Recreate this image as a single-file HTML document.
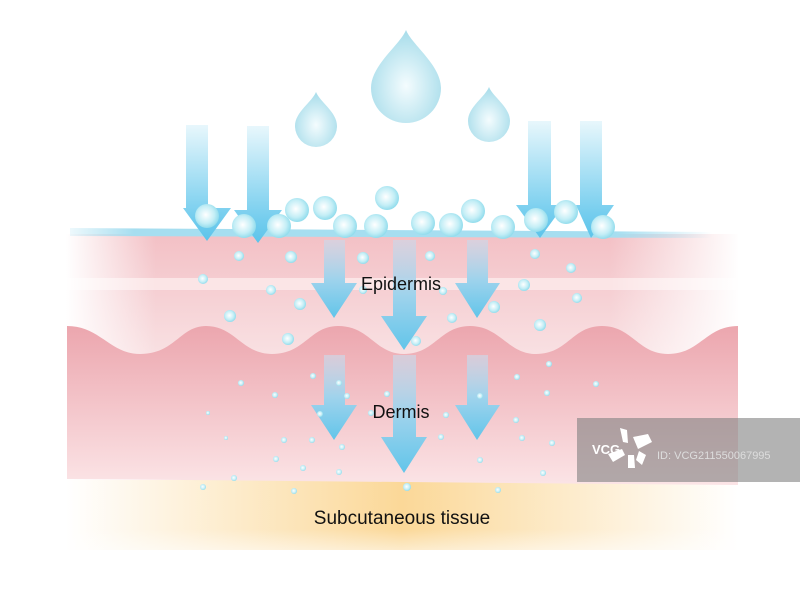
<!DOCTYPE html>
<html><head><meta charset="utf-8"><style>
html,body{margin:0;padding:0;background:#fff;}
svg{display:block;}
text{font-family:"Liberation Sans",sans-serif;fill:#111;}
</style></head><body>
<svg width="800" height="593" viewBox="0 0 800 593" xmlns="http://www.w3.org/2000/svg">
<defs>
<radialGradient id="bub" cx="0.45" cy="0.45" r="0.6">
<stop offset="0" stop-color="#ffffff"/><stop offset="0.6" stop-color="#c4eef6"/><stop offset="1" stop-color="#86d8ea"/></radialGradient>
<radialGradient id="drop" cx="0.5" cy="0.6" r="0.6">
<stop offset="0" stop-color="#f4fcfe"/><stop offset="1" stop-color="#a6dcea"/></radialGradient>
<linearGradient id="shaft" x1="0" y1="0" x2="0" y2="1">
<stop offset="0" stop-color="#e8f7fc"/><stop offset="0.8" stop-color="#74cdee"/><stop offset="1" stop-color="#5cc4ea"/></linearGradient>
<linearGradient id="shaft2" x1="0" y1="0" x2="0" y2="1">
<stop offset="0" stop-color="#d0d6e6" stop-opacity="0.7"/><stop offset="0.5" stop-color="#9fd3ec"/><stop offset="1" stop-color="#62c5ea"/></linearGradient>
<linearGradient id="epi" x1="0" y1="0" x2="0" y2="1">
<stop offset="0" stop-color="#f3c0c5"/><stop offset="0.4" stop-color="#f5cdd1"/><stop offset="1" stop-color="#f9e1e3"/></linearGradient>
<linearGradient id="derm" x1="0" y1="0" x2="0" y2="1">
<stop offset="0" stop-color="#eca6ae"/><stop offset="1" stop-color="#fbe4e6"/></linearGradient>
<linearGradient id="sub" x1="0" y1="0" x2="1" y2="0">
<stop offset="0" stop-color="#ffffff"/><stop offset="0.5" stop-color="#fbd898"/><stop offset="1" stop-color="#ffffff"/></linearGradient>
<linearGradient id="subV" x1="0" y1="0" x2="0" y2="1">
<stop offset="0" stop-color="#fff" stop-opacity="0"/><stop offset="0.7" stop-color="#fff" stop-opacity="0"/><stop offset="1" stop-color="#fff" stop-opacity="0.5"/></linearGradient>
<linearGradient id="fadeL" x1="0" y1="0" x2="1" y2="0">
<stop offset="0" stop-color="#fff" stop-opacity="1"/><stop offset="1" stop-color="#fff" stop-opacity="0"/></linearGradient>
<linearGradient id="fadeR" x1="0" y1="0" x2="1" y2="0">
<stop offset="0" stop-color="#fff" stop-opacity="0"/><stop offset="1" stop-color="#fff" stop-opacity="1"/></linearGradient>
<linearGradient id="line" x1="0" y1="0" x2="1" y2="0">
<stop offset="0" stop-color="#a6def0" stop-opacity="0.2"/><stop offset="0.1" stop-color="#a6def0"/><stop offset="0.85" stop-color="#a6def0"/><stop offset="1" stop-color="#a6def0" stop-opacity="0"/></linearGradient>
</defs>

<rect x="66" y="480" width="672" height="70" fill="url(#sub)"/>
<rect x="66" y="480" width="672" height="70" fill="url(#subV)"/>
<rect x="66" y="234" width="672" height="122" fill="url(#epi)"/>
<rect x="66" y="278" width="672" height="12" fill="#fbe9ea" opacity="0.85"/>
<rect x="66" y="230" width="90" height="130" fill="url(#fadeL)"/>
<rect x="610" y="230" width="130" height="130" fill="url(#fadeR)"/>
<path d="M67,326 C100,326 110,354 140,354 C175,354 180,326 206,326 C235,326 242,354 272,354 C305,354 310,326 338,326 C370,326 375,354 404,354 C435,354 440,326 470,326 C500,326 508,354 536,354 C568,354 572,326 602,326 C632,326 638,354 668,354 C700,354 706,326 738,326 L738,485 L67,479 Z" fill="url(#derm)"/>
<path d="M70,228 L712,232 L712,238 L70,236 Z" fill="url(#line)"/>

<path d="M406,30 C400,45 371,65 371,88 A35,35 0 0 0 441,88 C441,65 412,45 406,30 Z" fill="url(#drop)"/>
<path d="M316,92 C312,102 295,112 295,126 A21,21 0 0 0 337,126 C337,112 320,102 316,92 Z" fill="url(#drop)"/>
<path d="M489,87 C485,97 468,107 468,121 A21,21 0 0 0 510,121 C510,107 493,97 489,87 Z" fill="url(#drop)"/>

<g fill="url(#shaft)">
<path d="M186,125 H208 V208 H231 L207,241 L183,208 H186 Z"/>
<path d="M247,126 H269 V210 H282 L258,243 L234,210 H247 Z"/>
<path d="M528,121 H551 V205 H564 L540,238 L516,205 H528 Z"/>
<path d="M580,121 H602 V205 H614 L591,238 L576,205 H580 Z"/>
</g>
<g fill="url(#shaft2)">
<path d="M324,240 H345 V283 H357 L334,318 L311,283 H324 Z"/>
<path d="M393,240 H416 V316 H427 L404,350 L381,316 H393 Z"/>
<path d="M467,240 H488 V283 H500 L477,318 L455,283 H467 Z"/>
<path d="M324,355 H345 V405 H357 L334,440 L311,405 H324 Z"/>
<path d="M393,355 H416 V437 H427 L404,473 L381,437 H393 Z"/>
<path d="M467,355 H488 V405 H500 L477,440 L455,405 H467 Z"/>
</g>

<g fill="url(#bub)">
<circle cx="207" cy="216" r="12"/><circle cx="244" cy="226" r="12"/><circle cx="279" cy="226" r="12"/>
<circle cx="297" cy="210" r="12"/><circle cx="325" cy="208" r="12"/><circle cx="345" cy="226" r="12"/>
<circle cx="376" cy="226" r="12"/><circle cx="387" cy="198" r="12"/><circle cx="423" cy="223" r="12"/>
<circle cx="451" cy="225" r="12"/><circle cx="473" cy="211" r="12"/><circle cx="503" cy="227" r="12"/>
<circle cx="536" cy="220" r="12"/><circle cx="566" cy="212" r="12"/><circle cx="603" cy="227" r="12"/>
<circle cx="239" cy="256" r="5"/><circle cx="291" cy="257" r="6"/><circle cx="363" cy="258" r="6"/>
<circle cx="203" cy="279" r="5"/><circle cx="271" cy="290" r="5"/><circle cx="300" cy="304" r="6"/>
<circle cx="230" cy="316" r="6"/><circle cx="288" cy="339" r="6"/><circle cx="430" cy="256" r="5"/>
<circle cx="535" cy="254" r="5"/><circle cx="571" cy="268" r="5"/><circle cx="524" cy="285" r="6"/>
<circle cx="494" cy="307" r="6"/><circle cx="577" cy="298" r="5"/><circle cx="452" cy="318" r="5"/>
<circle cx="540" cy="325" r="6"/><circle cx="416" cy="341" r="5"/><circle cx="363" cy="290" r="4"/>
<circle cx="443" cy="291" r="4"/>
<circle cx="241" cy="383" r="3"/><circle cx="275" cy="395" r="3"/><circle cx="208" cy="413" r="2"/>
<circle cx="313" cy="376" r="3"/><circle cx="320" cy="414" r="3"/><circle cx="347" cy="396" r="3"/>
<circle cx="339" cy="383" r="3"/><circle cx="284" cy="440" r="3"/><circle cx="226" cy="438" r="2"/>
<circle cx="312" cy="440" r="3"/><circle cx="276" cy="459" r="3"/><circle cx="303" cy="468" r="3"/>
<circle cx="342" cy="447" r="3"/><circle cx="387" cy="394" r="3"/><circle cx="446" cy="415" r="3"/>
<circle cx="480" cy="396" r="3"/><circle cx="517" cy="377" r="3"/><circle cx="516" cy="420" r="3"/>
<circle cx="522" cy="438" r="3"/><circle cx="549" cy="364" r="3"/><circle cx="547" cy="393" r="3"/>
<circle cx="596" cy="384" r="3"/><circle cx="552" cy="443" r="3"/><circle cx="543" cy="473" r="3"/>
<circle cx="480" cy="460" r="3"/><circle cx="441" cy="437" r="3"/><circle cx="339" cy="472" r="3"/>
<circle cx="234" cy="478" r="3"/><circle cx="203" cy="487" r="3"/><circle cx="294" cy="491" r="3"/>
<circle cx="407" cy="487" r="4"/><circle cx="498" cy="490" r="3"/><circle cx="371" cy="413" r="3"/>
</g>

<text x="401" y="290" font-size="18" text-anchor="middle">Epidermis</text>
<text x="401" y="418" font-size="18" text-anchor="middle">Dermis</text>
<text x="402" y="524" font-size="19" text-anchor="middle">Subcutaneous tissue</text>

<rect x="577" y="418" width="223" height="64" fill="#808080" opacity="0.6"/>
<text x="592" y="454" font-size="13" font-weight="bold" style="fill:#fff">VCG</text>
<g fill="#fff">
<path d="M620,428 L627,430 L628,443 L623,442 Z"/>
<path d="M633,437 L648,434 L652,442 L638,449 Z"/>
<path d="M608,454 L622,449 L625,455 L613,462 Z"/>
<path d="M628,455 L634,455 L635,468 L628,468 Z"/>
<path d="M639,451 L646,455 L642,465 L636,460 Z"/>
</g>
<text x="657" y="459" font-size="11" style="fill:#ddd">ID: VCG211550067995</text>
</svg>
</body></html>
